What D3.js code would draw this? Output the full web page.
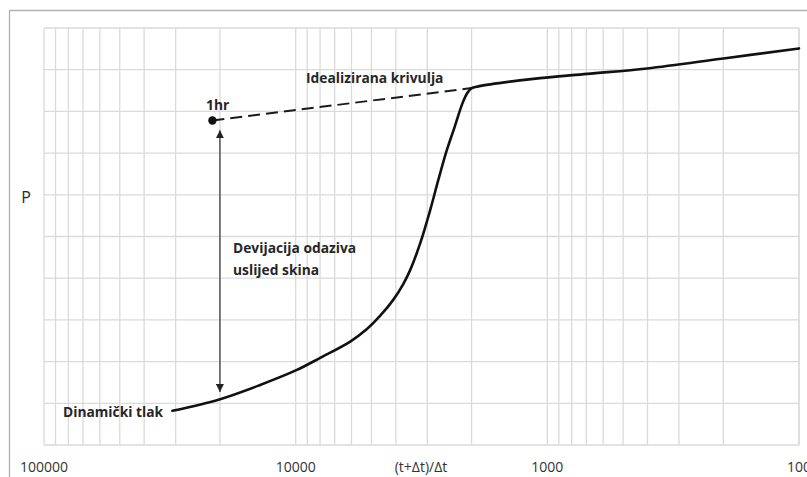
<!DOCTYPE html>
<html>
<head>
<meta charset="utf-8">
<script src="https://cdn.jsdelivr.net/npm/d3@7"></script>
<style>
html,body{margin:0;padding:0;background:#fff;}
svg{display:block;}
text{font-family:"Open Sans",Lato,sans-serif;}
</style>
</head>
<body>
<svg id="chart" width="807" height="477"></svg>
<script>
// ---- data ----
const xTickLabels = ["100000", "10000", "1000", "100"];
const xTickValues = [100000, 10000, 1000, 100];
const xTitle = "(t+\u0394t)/\u0394t";
const yTitle = "P";

// dynamic pressure curve (Horner time ratio, pressure in grid units)
const dynX = [30900, 19960, 13840, 9890, 7990, 6070, 5210, 4613, 4096, 3737, 3505, 3199, 2919, 2713, 2521, 2343, 2178, 2080, 2005, 1881, 1137, 695, 401.5, 199.6, 100];
const dynP = [0.82, 1.10, 1.44, 1.80, 2.09, 2.48, 2.78, 3.10, 3.48, 3.86, 4.20, 4.84, 5.64, 6.35, 7.03, 7.60, 8.18, 8.44, 8.55, 8.60, 8.78, 8.90, 9.03, 9.27, 9.51];

// idealized (extrapolated) straight line
const idealX = [21420, 2005];
const idealP = [7.78, 8.56];

// 1hr point
const oneHrX = [21420];
const oneHrP = [7.78];

// skin deviation arrow
const arrowX = [20000, 20000];
const arrowP = [7.55, 1.27];

const labels = {
  ideal: "Idealizirana krivulja",
  oneHr: "1hr",
  dev1: "Devijacija odaziva",
  dev2: "uslijed skina",
  dyn: "Dinami\u010dki tlak"
};

// ---- layout ----
const svg = d3.select("#chart");
const L = 44, R = 799, T = 28, B = 445;

const x = d3.scaleLog().domain([100000, 100]).range([L, R]);
const y = d3.scaleLinear().domain([0, 10]).range([B, T]);

// outer frame
svg.append("path")
  .attr("d", `M9.5,477 V10.5 H807`)
  .attr("fill", "none").attr("stroke", "#b0b0b0").attr("stroke-width", 1.3);

// grid
const grid = svg.append("g").attr("stroke", "#dadada").attr("stroke-width", 1.3);
const minor = [];
[100, 1000, 10000].forEach(d => { for (let k = 1; k <= 9; k++) minor.push(d * k); });
minor.push(100000);
minor.forEach(v => {
  grid.append("line").attr("x1", x(v)).attr("x2", x(v)).attr("y1", T).attr("y2", B);
});
y.ticks(10).forEach(v => {
  grid.append("line").attr("x1", L).attr("x2", R).attr("y1", y(v)).attr("y2", y(v));
});
grid.append("line").attr("x1", R).attr("x2", R).attr("y1", T).attr("y2", B);

// x tick labels
svg.append("g").selectAll("text").data(xTickValues).join("text")
  .attr("x", d => x(d)).attr("y", 472)
  .attr("text-anchor", "middle")
  .attr("font-size", 14).attr("fill", "#333")
  .text((d, i) => xTickLabels[i]);

svg.append("text").attr("x", 421).attr("y", 472)
  .attr("text-anchor", "middle").attr("font-size", 14).attr("fill", "#333")
  .text(xTitle);

svg.append("text").attr("x", 26).attr("y", 203)
  .attr("text-anchor", "middle").attr("font-size", 16).attr("fill", "#2a2a2a")
  .text(yTitle);

// idealized dashed line
const line = d3.line().x(d => x(d[0])).y(d => y(d[1]));
svg.append("path")
  .datum(idealX.map((v, i) => [v, idealP[i]]))
  .attr("d", line)
  .attr("fill", "none").attr("stroke", "#1a1a1a").attr("stroke-width", 2)
  .attr("stroke-dasharray", "12,6");

// dynamic pressure curve
const curve = d3.line().x(d => x(d[0])).y(d => y(d[1])).curve(d3.curveCatmullRom.alpha(0.5));
svg.append("path")
  .datum(dynX.map((v, i) => [v, dynP[i]]))
  .attr("d", curve)
  .attr("fill", "none").attr("stroke", "#111").attr("stroke-width", 2.6)
  .attr("stroke-linejoin", "round").attr("stroke-linecap", "round");

// 1hr point
svg.append("circle")
  .attr("cx", x(oneHrX[0])).attr("cy", y(oneHrP[0])).attr("r", 4.2)
  .attr("fill", "#111");

// arrow
const defs = svg.append("defs");
defs.append("marker").attr("id", "ah")
  .attr("viewBox", "0 0 10 10").attr("refX", 10).attr("refY", 5)
  .attr("markerWidth", 8).attr("markerHeight", 8).attr("markerUnits", "userSpaceOnUse")
  .attr("orient", "auto-start-reverse")
  .append("path").attr("d", "M0,0 L10,5 L0,10 Z").attr("fill", "#222");
svg.append("line")
  .attr("x1", x(arrowX[0])).attr("x2", x(arrowX[1]))
  .attr("y1", y(arrowP[0])).attr("y2", y(arrowP[1]))
  .attr("stroke", "#555").attr("stroke-width", 1.5)
  .attr("marker-start", "url(#ah)").attr("marker-end", "url(#ah)");

// annotations
const ann = svg.append("g").attr("font-size", 13.8).attr("font-weight", "bold").attr("fill", "#262626");
ann.append("text").attr("x", 306).attr("y", 82.5).text(labels.ideal);
ann.append("text").attr("x", 206).attr("y", 109.5).text(labels.oneHr);
ann.append("text").attr("x", 233).attr("y", 252.5).text(labels.dev1);
ann.append("text").attr("x", 233).attr("y", 274.5).text(labels.dev2);
ann.append("text").attr("x", 63).attr("y", 416.5).text(labels.dyn);
</script>
</body>
</html>
